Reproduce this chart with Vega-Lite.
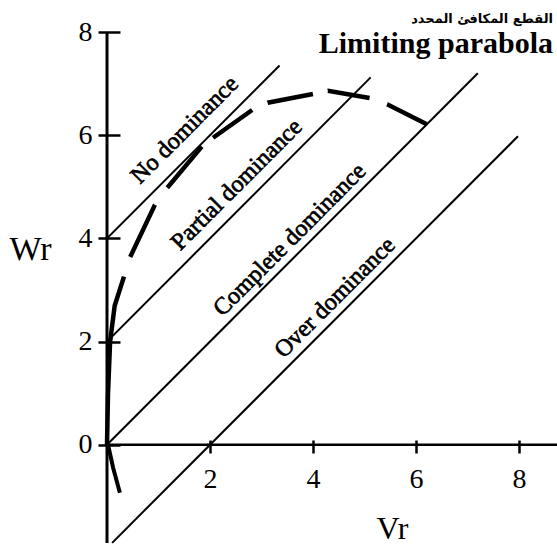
{
  "$schema": "https://vega.github.io/schema/vega-lite/v6.json",
  "width": 450,
  "height": 511,
  "autosize": "none",
  "padding": {"left": 107, "top": 32, "right": 0, "bottom": 2},
  "background": "white",
  "config": {
    "view": {"stroke": null},
    "axis": {"grid": false}
  },
  "datasets": {
    "lines": [
      {"line": "No dominance", "Vr": 0, "Wr": 4},
      {"line": "No dominance", "Vr": 3.35, "Wr": 7.35},
      {"line": "Partial dominance", "Vr": 0, "Wr": 2},
      {"line": "Partial dominance", "Vr": 5.12, "Wr": 7.12},
      {"line": "Complete dominance", "Vr": 0, "Wr": 0},
      {"line": "Complete dominance", "Vr": 7.2, "Wr": 7.2},
      {"line": "Over dominance", "Vr": 0.1, "Wr": -1.9},
      {"line": "Over dominance", "Vr": 7.98, "Wr": 5.98}
    ],
    "parabola": [
      {"branch": "upper", "step": 0, "Vr": 0, "Wr": 0},
      {"branch": "upper", "step": 1, "Vr": 0.02, "Wr": 1.0},
      {"branch": "upper", "step": 2, "Vr": 0.06, "Wr": 2.0},
      {"branch": "upper", "step": 3, "Vr": 0.15, "Wr": 2.7},
      {"branch": "upper", "step": 4, "Vr": 0.33, "Wr": 3.26},
      {"branch": "upper", "step": 5, "Vr": 0.45, "Wr": 3.64},
      {"branch": "upper", "step": 6, "Vr": 0.93, "Wr": 4.65},
      {"branch": "upper", "step": 7, "Vr": 1.17, "Wr": 4.98},
      {"branch": "upper", "step": 8, "Vr": 1.84, "Wr": 5.78},
      {"branch": "upper", "step": 9, "Vr": 2.06, "Wr": 5.95},
      {"branch": "upper", "step": 10, "Vr": 2.82, "Wr": 6.49},
      {"branch": "upper", "step": 11, "Vr": 3.12, "Wr": 6.63},
      {"branch": "upper", "step": 12, "Vr": 4.0, "Wr": 6.8},
      {"branch": "upper", "step": 13, "Vr": 4.29, "Wr": 6.86},
      {"branch": "upper", "step": 14, "Vr": 5.1, "Wr": 6.72},
      {"branch": "upper", "step": 15, "Vr": 5.44, "Wr": 6.6},
      {"branch": "upper", "step": 16, "Vr": 6.21, "Wr": 6.21},
      {"branch": "lower", "step": 0, "Vr": 0.02, "Wr": 0},
      {"branch": "lower", "step": 1, "Vr": 0.12, "Wr": -0.45},
      {"branch": "lower", "step": 2, "Vr": 0.25, "Wr": -0.93}
    ],
    "labels": [
      {"label": "No dominance", "Vr": 1.51, "Wr": 6.1},
      {"label": "Partial dominance", "Vr": 2.52, "Wr": 5.04},
      {"label": "Complete dominance", "Vr": 3.55, "Wr": 3.97},
      {"label": "Over dominance", "Vr": 4.43, "Wr": 2.85}
    ],
    "anchor": [{}]
  },
  "layer": [
    {
      "data": {"name": "lines"},
      "mark": {"type": "line", "color": "black", "strokeWidth": 2},
      "encoding": {
        "x": {
          "field": "Vr", "type": "quantitative",
          "scale": {"domain": [0, 8.738], "nice": false, "zero": false},
          "axis": {
            "orient": "bottom", "offset": -103, "domain": false,
            "values": [2, 4, 6, 8], "tickSize": 13, "tickWidth": 2.5, "tickColor": "black",
            "labelFont": "Liberation Serif", "labelFontSize": 28, "labelColor": "black",
            "labelPadding": 12, "labelFlush": false,
            "title": "Vr", "titleFont": "Liberation Serif", "titleFontSize": 32,
            "titleFontWeight": "normal", "titleColor": "black",
            "titleX": 285, "titleY": 98, "titleBaseline": "alphabetic", "titleAlign": "center", "titleAnchor": null
          }
        },
        "y": {
          "field": "Wr", "type": "quantitative",
          "scale": {"domain": [-1.903, 8], "nice": false, "zero": false},
          "axis": {
            "orient": "left", "offset": -13, "domain": false,
            "values": [0, 2, 4, 6, 8], "tickSize": 22, "tickWidth": 2.5, "tickColor": "black",
            "labelFont": "Liberation Serif", "labelFontSize": 28, "labelColor": "black",
            "labelPadding": 6, "labelFlush": false,
            "title": "Wr", "titleFont": "Liberation Serif", "titleFontSize": 34,
            "titleFontWeight": "normal", "titleColor": "black", "titleAngle": 0,
            "titleX": -90, "titleY": 227, "titleBaseline": "alphabetic", "titleAlign": "center", "titleAnchor": null
          }
        },
        "detail": {"field": "line"}
      }
    },
    {
      "data": {"name": "anchor"},
      "mark": {"type": "rule", "color": "black", "strokeWidth": 2.5},
      "encoding": {"y": {"datum": 0, "type": "quantitative"}}
    },
    {
      "data": {"name": "anchor"},
      "mark": {"type": "rule", "color": "black", "strokeWidth": 3},
      "encoding": {"x": {"datum": 0, "type": "quantitative"}}
    },
    {
      "data": {"name": "parabola"},
      "transform": [{"filter": "datum.branch === 'upper'"}],
      "mark": {
        "type": "line", "color": "black", "strokeWidth": 4.5,
        "strokeDash": [170, 20.6, 57.7, 21.1, 53.7, 14.3, 48, 17.1, 46.1, 15.2, 42.4, 18.6, 44.5, 300]
      },
      "encoding": {
        "x": {"field": "Vr", "type": "quantitative"},
        "y": {"field": "Wr", "type": "quantitative"},
        "order": {"field": "step"}
      }
    },
    {
      "data": {"name": "parabola"},
      "transform": [{"filter": "datum.branch === 'lower'"}],
      "mark": {"type": "line", "color": "black", "strokeWidth": 4},
      "encoding": {
        "x": {"field": "Vr", "type": "quantitative"},
        "y": {"field": "Wr", "type": "quantitative"},
        "order": {"field": "step"}
      }
    },
    {
      "data": {"name": "labels"},
      "mark": {
        "type": "text", "font": "Liberation Serif", "fontSize": 24, "color": "black",
        "stroke": "black", "strokeWidth": 0.7,
        "angle": -45, "align": "center", "baseline": "middle"
      },
      "encoding": {
        "x": {"field": "Vr", "type": "quantitative"},
        "y": {"field": "Wr", "type": "quantitative"},
        "text": {"field": "label"}
      }
    },
    {
      "data": {"name": "anchor"},
      "mark": {
        "type": "text", "font": "DejaVu Sans", "fontWeight": "bold", "fontSize": 13,
        "color": "black", "align": "right", "baseline": "alphabetic"
      },
      "encoding": {
        "x": {"datum": 8.66, "type": "quantitative"},
        "y": {"datum": 8.17, "type": "quantitative"},
        "text": {"value": "القطع المكافئ المحدد"}
      }
    },
    {
      "data": {"name": "anchor"},
      "mark": {
        "type": "text", "font": "Liberation Serif", "fontWeight": "bold", "fontSize": 30,
        "color": "black", "align": "right", "baseline": "alphabetic"
      },
      "encoding": {
        "x": {"datum": 8.66, "type": "quantitative"},
        "y": {"datum": 7.6, "type": "quantitative"},
        "text": {"value": "Limiting  parabola"}
      }
    }
  ]
}
